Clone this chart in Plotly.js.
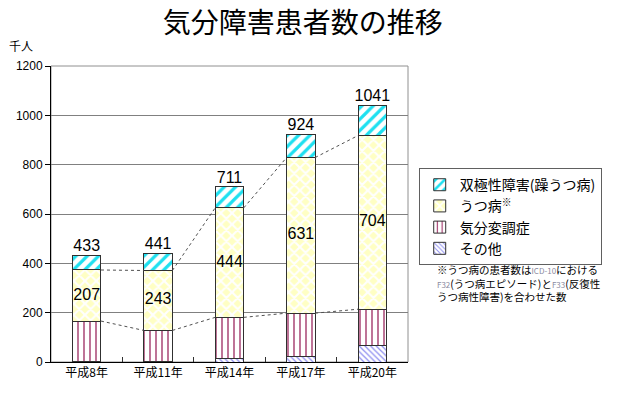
<!DOCTYPE html>
<html>
<head>
<meta charset="utf-8">
<script src="https://cdn.plot.ly/plotly-3.0.1.min.js"></script>
<style>html,body{margin:0;padding:0;background:#fff;}#chart{width:618px;height:394px;}</style>
</head>
<body>
<div id="chart"></div>
<script>
const categories = ['平成8年', '平成11年', '平成14年', '平成17年', '平成20年'];
const other = [1, 1, 16, 23, 66];
const dysthymia = [165, 127, 165, 175, 148];
const depression = [207, 243, 444, 631, 704];
const bipolar = [60, 70, 86, 95, 123];
const totals = [433, 441, 711, 924, 1041];
const seriesNames = ['その他', '気分変調症', 'うつ病<sup>※</sup>', '双極性障害(躁うつ病)'];

const JP = '"Noto Sans CJK JP", "Noto Sans", sans-serif';
const NUM = '"Liberation Sans", Arial, sans-serif';
const BAR_W = 0.4;
const outline = {color: '#303030', width: 1};

const traces = [];
traces.push({type: 'bar', x: categories, y: other, name: seriesNames[0], width: BAR_W,
  marker: {color: '#ffffff', line: outline, pattern: {shape: '\\', fgcolor: '#8c8cf0', bgcolor: '#ffffff', size: 4, solidity: 0.3}}, hoverinfo: 'skip'});
traces.push({type: 'bar', x: categories, y: dysthymia, name: seriesNames[1], width: BAR_W,
  marker: {color: '#ffffff', line: outline, pattern: {shape: '|', fgcolor: '#9c2a62', bgcolor: '#ffffff', size: 6, solidity: 0.22}}, hoverinfo: 'skip'});
traces.push({type: 'bar', x: categories, y: depression, name: seriesNames[2], width: BAR_W,
  marker: {color: '#ffffcc', line: outline, pattern: {shape: 'x', fgcolor: '#ffffff', bgcolor: '#ffffc4', size: 8, solidity: 0.45}}, hoverinfo: 'skip'});
traces.push({type: 'bar', x: categories, y: bipolar, name: seriesNames[3], width: BAR_W,
  marker: {color: '#ffffff', line: outline, pattern: {shape: '/', fgcolor: '#1ee0f0', bgcolor: '#ffffff', size: 8, solidity: 0.4}}, hoverinfo: 'skip'});

// series lines (Excel-style) connecting segment tops between bars
const cumDys = other.map((v, i) => v + dysthymia[i]);
const cumDep = cumDys.map((v, i) => v + depression[i]);
function seriesLine(cum) {
  const xs = [], ys = [];
  for (let i = 0; i < cum.length - 1; i++) {
    xs.push(i + BAR_W / 2, i + 1 - BAR_W / 2, null);
    ys.push(cum[i], cum[i + 1], null);
  }
  return {type: 'scatter', mode: 'lines', x: xs, y: ys, xaxis: 'x2', yaxis: 'y',
    line: {color: '#505050', width: 1, dash: 'dot'}, showlegend: false, hoverinfo: 'skip', connectgaps: false};
}
traces.push(seriesLine(cumDys));
traces.push(seriesLine(cumDep));

// depression values in the middle of their segment
traces.push({type: 'scatter', mode: 'text', x: categories, y: cumDys.map((v, i) => v + depression[i] / 2),
  text: depression.map(String), textposition: 'middle center',
  textfont: {family: NUM, size: 16, color: '#000'}, showlegend: false, hoverinfo: 'skip', cliponaxis: false});
// totals above the bars
traces.push({type: 'scatter', mode: 'text', x: categories, y: totals,
  text: totals.map(String), textposition: 'top center',
  textfont: {family: NUM, size: 16, color: '#000'}, showlegend: false, hoverinfo: 'skip', cliponaxis: false});

const layout = {
  width: 618, height: 394,
  margin: {l: 51, r: 210, t: 66, b: 32},
  paper_bgcolor: '#ffffff', plot_bgcolor: '#ffffff',
  barmode: 'stack',
  showlegend: true,
  title: {text: '気分障害患者数の推移', font: {family: JP, size: 28, color: '#000'},
    x: 0.49, xanchor: 'center', y: 0.94, yanchor: 'middle', yref: 'container'},
  xaxis: {type: 'category', range: [-0.5, 4.5], tickson: 'boundaries', ticks: 'inside', ticklen: 5,
    tickcolor: '#303030', showgrid: false, showline: true, linecolor: '#000', linewidth: 1,
    tickfont: {family: JP, size: 12, color: '#000'}, fixedrange: true},
  xaxis2: {overlaying: 'x', range: [-0.5, 4.5], visible: false, anchor: 'y', fixedrange: true},
  yaxis: {range: [0, 1200], dtick: 200, tick0: 0, showgrid: true, gridcolor: '#808080', gridwidth: 1,
    showline: true, linecolor: '#000', linewidth: 1, ticks: 'outside', ticklen: 5, tickcolor: '#000',
    tickfont: {family: NUM, size: 12, color: '#000'}, zeroline: false, fixedrange: true},
  legend: {x: 1.03, xanchor: 'left', y: 0.655, yanchor: 'top', traceorder: 'reversed',
    bordercolor: '#606060', borderwidth: 1, bgcolor: '#ffffff',
    font: {family: JP, size: 14, color: '#000'}, itemwidth: 30, tracegroupgap: 0},
  shapes: [{type: 'rect', xref: 'paper', yref: 'paper', x0: 0, x1: 1, y0: 0, y1: 1,
    line: {color: '#909090', width: 1}, layer: 'below'}],
  annotations: [
    {text: '千人', xref: 'paper', yref: 'paper', x: -0.085, y: 1.07, xanchor: 'center', yanchor: 'middle',
      showarrow: false, font: {family: JP, size: 12, color: '#000'}},
    {text: '※うつ病の患者数は<span style="font-size:8px;color:#8a8aa0">ICD-10</span>における<br>' +
      '<span style="font-size:8px;color:#8a8aa0">F32</span>(うつ病エピソード)と<span style="font-size:8px;color:#8a8aa0">F33</span>(反復性<br>' +
      'うつ病性障害)を合わせた数',
      xref: 'paper', yref: 'paper', x: 1.075, y: 0.345, xanchor: 'left', yanchor: 'top', align: 'left',
      showarrow: false, font: {family: JP, size: 10.5, color: '#000'}}
  ]
};

Plotly.newPlot('chart', traces, layout, {displayModeBar: false, staticPlot: true});
</script>
</body>
</html>
